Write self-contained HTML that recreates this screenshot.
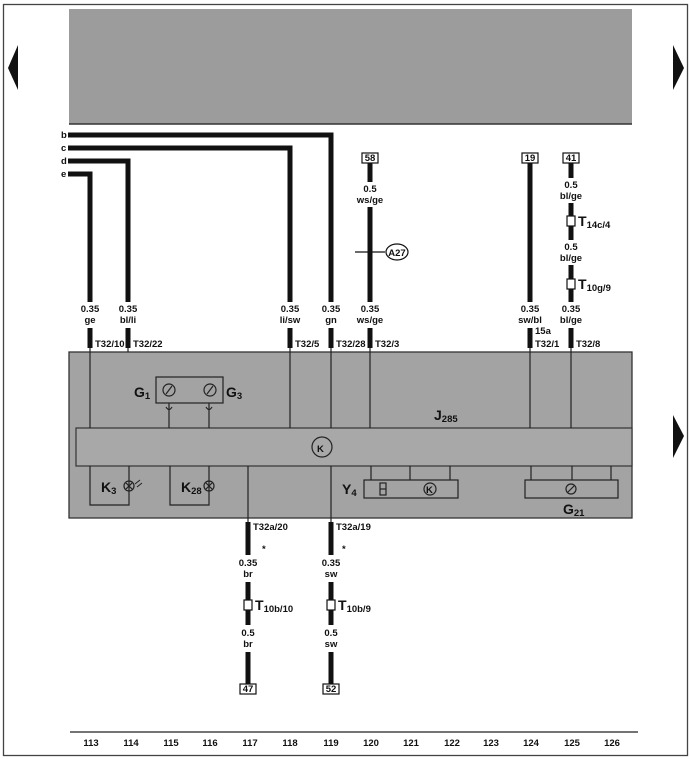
<!DOCTYPE html>
<html><head><meta charset="utf-8"><style>
html,body{margin:0;padding:0;background:#fff;}
svg{display:block;font-family:"Liberation Sans",sans-serif;}
.s{font-size:9.5px;font-weight:bold;fill:#111;}
.m{font-size:14px;font-weight:bold;fill:#111;}
.sub{font-size:9.5px;font-weight:bold;}
</style></head><body>
<svg width="690" height="759" viewBox="0 0 690 759" xmlns="http://www.w3.org/2000/svg">
<rect x="3.5" y="4.5" width="684" height="751" fill="none" stroke="#444" stroke-width="1.3"/>
<rect x="69" y="9" width="563" height="115" fill="#9c9c9c"/>
<line x1="69" y1="124" x2="632" y2="124" stroke="#333" stroke-width="1.5"/>
<polygon points="18,45 18,90 8,68" fill="#111"/>
<polygon points="673,45 673,90 684,68" fill="#111"/>
<polygon points="673,415 673,458 684,436" fill="#111"/>

<rect x="69" y="352" width="563" height="166" fill="#a3a3a3" stroke="#333" stroke-width="1.3"/>
<rect x="76" y="428" width="556" height="38" fill="#a8a8a8" stroke="#333" stroke-width="1.2"/>
<g stroke="#222" stroke-width="1.2" fill="none">
<line x1="90" y1="340" x2="90" y2="428"/><line x1="128" y1="340" x2="128" y2="352"/>
<line x1="290" y1="340" x2="290" y2="428"/><line x1="331" y1="340" x2="331" y2="428"/>
<line x1="370" y1="340" x2="370" y2="428"/><line x1="530" y1="340" x2="530" y2="428"/>
<line x1="571" y1="340" x2="571" y2="428"/>
<rect x="156" y="377" width="67" height="26"/>
<circle cx="169" cy="390" r="6"/><circle cx="210" cy="390" r="6"/>
<line x1="166" y1="394" x2="172" y2="386"/><line x1="207" y1="394" x2="213" y2="386"/>
<line x1="169" y1="403" x2="169" y2="428"/><line x1="209" y1="403" x2="209" y2="428"/>
<path d="M166 407 q3 5 6 0"/><path d="M206 407 q3 5 6 0"/>
<circle cx="322" cy="447" r="10"/>
<polyline points="90,466 90,505 129,505 129,466"/>
<circle cx="129" cy="486" r="5"/><line x1="126" y1="483" x2="132" y2="489"/><line x1="132" y1="483" x2="126" y2="489"/>
<polyline points="170,466 170,505 209,505 209,466"/>
<circle cx="209" cy="486" r="5"/><line x1="206" y1="483" x2="212" y2="489"/><line x1="212" y1="483" x2="206" y2="489"/>
<line x1="248" y1="466" x2="248" y2="522"/><line x1="331" y1="466" x2="331" y2="522"/>
<rect x="364" y="480" width="94" height="18"/>
<line x1="371" y1="466" x2="371" y2="480"/><line x1="410" y1="466" x2="410" y2="480"/><line x1="450" y1="466" x2="450" y2="480"/>
<rect x="380" y="483" width="6" height="12"/><line x1="380" y1="489" x2="386" y2="489"/>
<circle cx="430" cy="489" r="6"/>
<rect x="525" y="480" width="93" height="18"/>
<line x1="531" y1="466" x2="531" y2="480"/><line x1="572" y1="466" x2="572" y2="480"/><line x1="611" y1="466" x2="611" y2="480"/>
<circle cx="571" cy="489" r="5"/><line x1="568" y1="492" x2="574" y2="486"/>
</g>
<text x="317" y="452" class="s" font-size="13">K</text>
<text x="426" y="493" class="s">K</text>
<path d="M135 484 l5 -4 M137 487 l5 -4" stroke="#222" stroke-width="1"/>
<text x="134" y="397" class="m">G<tspan class="sub" dy="2">1</tspan></text>
<text x="226" y="397" class="m">G<tspan class="sub" dy="2">3</tspan></text>
<text x="434" y="420" class="m">J<tspan class="sub" dy="2">285</tspan></text>
<text x="101" y="492" class="m">K<tspan class="sub" dy="2">3</tspan></text>
<text x="181" y="492" class="m">K<tspan class="sub" dy="2">28</tspan></text>
<text x="342" y="494" class="m">Y<tspan class="sub" dy="2">4</tspan></text>
<text x="563" y="514" class="m">G<tspan class="sub" dy="2">21</tspan></text>

<g stroke="#111" stroke-width="5" fill="none">
<polyline points="68,135 331,135 331,302"/>
<polyline points="68,148 290,148 290,302"/>
<polyline points="68,161 128,161 128,302"/>
<polyline points="68,174 90,174 90,302"/>
<line x1="90" y1="328" x2="90" y2="348"/><line x1="128" y1="328" x2="128" y2="348"/>
<line x1="290" y1="328" x2="290" y2="348"/><line x1="331" y1="328" x2="331" y2="348"/>
<line x1="370" y1="163" x2="370" y2="182"/><line x1="370" y1="207" x2="370" y2="302"/><line x1="370" y1="328" x2="370" y2="348"/>
<line x1="530" y1="163" x2="530" y2="302"/><line x1="530" y1="328" x2="530" y2="348"/>
<line x1="571" y1="163" x2="571" y2="178"/><line x1="571" y1="203" x2="571" y2="240"/><line x1="571" y1="265" x2="571" y2="302"/><line x1="571" y1="328" x2="571" y2="348"/>
<line x1="248" y1="522" x2="248" y2="555"/><line x1="248" y1="582" x2="248" y2="625"/><line x1="248" y1="652" x2="248" y2="684"/>
<line x1="331" y1="522" x2="331" y2="555"/><line x1="331" y1="582" x2="331" y2="625"/><line x1="331" y1="652" x2="331" y2="684"/>
</g>
<g class="s" text-anchor="start"><text x="61" y="138">b</text><text x="61" y="151">c</text><text x="61" y="164">d</text><text x="61" y="177">e</text></g>
<line x1="355" y1="252" x2="385" y2="252" stroke="#111" stroke-width="1.2"/>
<circle cx="370" cy="252" r="2.5" fill="#111"/>
<ellipse cx="397" cy="252" rx="11" ry="8" fill="#fff" stroke="#111" stroke-width="1.2"/>
<text x="397" y="256" class="s" text-anchor="middle">A27</text>
<g fill="#fff" stroke="#111" stroke-width="1.2">
<rect x="362" y="153" width="16" height="10"/><rect x="522" y="153" width="16" height="10"/><rect x="563" y="153" width="16" height="10"/>
<rect x="240" y="684" width="16" height="10"/><rect x="323" y="684" width="16" height="10"/>
<rect x="567" y="216" width="8" height="10"/><rect x="567" y="279" width="8" height="10"/>
<rect x="244" y="600" width="8" height="10"/><rect x="327" y="600" width="8" height="10"/>
</g>
<g class="s" text-anchor="middle">
<text x="370" y="161">58</text><text x="530" y="161">19</text><text x="571" y="161">41</text>
<text x="248" y="692">47</text><text x="331" y="692">52</text>
<text x="90" y="312">0.35</text><text x="90" y="323">ge</text>
<text x="128" y="312">0.35</text><text x="128" y="323">bl/li</text>
<text x="290" y="312">0.35</text><text x="290" y="323">li/sw</text>
<text x="331" y="312">0.35</text><text x="331" y="323">gn</text>
<text x="370" y="312">0.35</text><text x="370" y="323">ws/ge</text>
<text x="370" y="192">0.5</text><text x="370" y="203">ws/ge</text>
<text x="530" y="312">0.35</text><text x="530" y="323">sw/bl</text>
<text x="571" y="312">0.35</text><text x="571" y="323">bl/ge</text>
<text x="571" y="188">0.5</text><text x="571" y="199">bl/ge</text>
<text x="571" y="250">0.5</text><text x="571" y="261">bl/ge</text>
<text x="248" y="566">0.35</text><text x="248" y="577">br</text>
<text x="331" y="566">0.35</text><text x="331" y="577">sw</text>
<text x="248" y="636">0.5</text><text x="248" y="647">br</text>
<text x="331" y="636">0.5</text><text x="331" y="647">sw</text>
</g>
<g class="s">
<text x="95" y="347">T32/10</text><text x="133" y="347">T32/22</text><text x="295" y="347">T32/5</text>
<text x="336" y="347">T32/28</text><text x="375" y="347">T32/3</text><text x="535" y="347">T32/1</text>
<text x="535" y="334">15a</text><text x="576" y="347">T32/8</text>
<text x="253" y="530">T32a/20</text><text x="336" y="530">T32a/19</text>
<text x="262" y="552">*</text><text x="342" y="552">*</text>
</g>
<text x="578" y="226" class="m">T<tspan class="sub" dy="2">14c/4</tspan></text>
<text x="578" y="289" class="m">T<tspan class="sub" dy="2">10g/9</tspan></text>
<text x="255" y="610" class="m">T<tspan class="sub" dy="2">10b/10</tspan></text>
<text x="338" y="610" class="m">T<tspan class="sub" dy="2">10b/9</tspan></text>

<line x1="70" y1="732" x2="638" y2="732" stroke="#222" stroke-width="1.3"/>
<g class="s" text-anchor="middle" font-size="8.5">
<text x="91" y="746">113</text><text x="131" y="746">114</text><text x="171" y="746">115</text><text x="210" y="746">116</text>
<text x="250" y="746">117</text><text x="290" y="746">118</text><text x="331" y="746">119</text><text x="371" y="746">120</text>
<text x="411" y="746">121</text><text x="452" y="746">122</text><text x="491" y="746">123</text><text x="531" y="746">124</text>
<text x="572" y="746">125</text><text x="612" y="746">126</text>
</g>
</svg>
</body></html>
